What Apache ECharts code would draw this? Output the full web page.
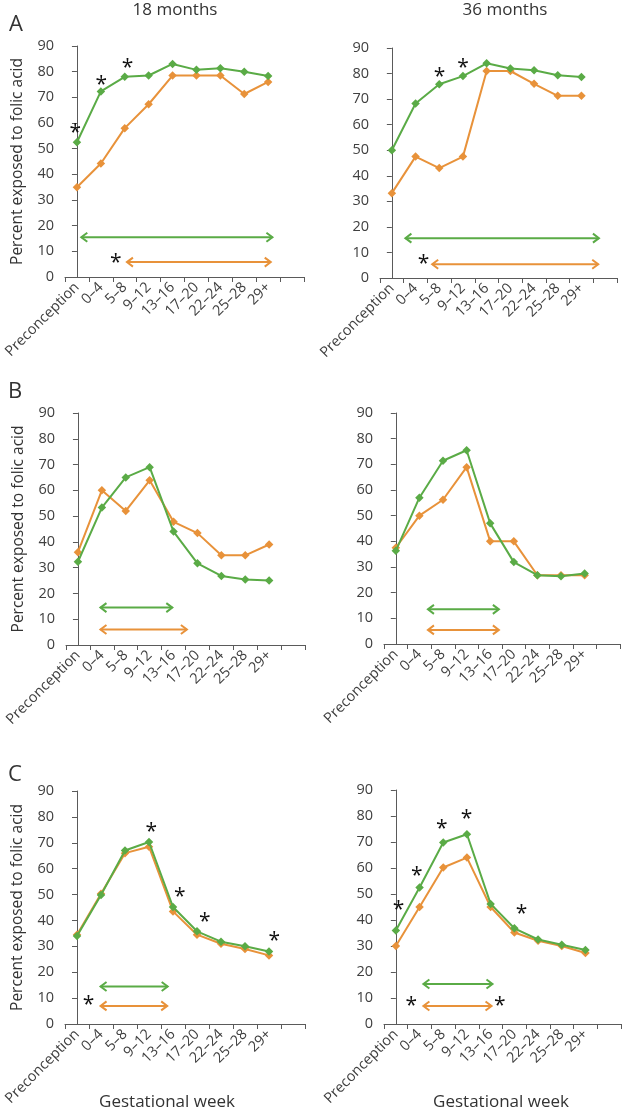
<!DOCTYPE html>
<html><head><meta charset="utf-8">
<script src="https://cdn.jsdelivr.net/npm/echarts@6/dist/echarts.min.js"></script>
<style>html,body{margin:0;padding:0;background:#fff}#c{width:624px;height:1112px}</style>
</head><body><div id="c"></div>
<script>
// ---- data ----
const categories = ['Preconception','0–4','5–8','9–12','13–16','17–20','22–24','25–28','29+',''];
const yTicks = [0,10,20,30,40,50,60,70,80,90];
const columnTitles = ['18 months','36 months'];
const panelLetters = ['A','B','C'];
const xTitle = 'Gestational week';
const yTitle = 'Percent exposed to folic acid';

const a18Green  = [52.5,72.3,78,78.5,83,80.7,81.3,80,78.3];
const a18Orange = [35,44.2,58,67.3,78.5,78.5,78.5,71.3,76];
const a36Green  = [50,68.3,75.8,79,84,82,81.3,79.3,78.7];
const a36Orange = [33.2,47.5,43,47.5,81,81,76,71.3,71.3];
const b18Green  = [32.3,53.3,65,69,44,31.7,26.8,25.4,25];
const b18Orange = [36,60,52,63.9,47.8,43.4,34.8,34.8,39];
const b36Green  = [36.3,57,71.4,75.5,47,31.9,26.8,26.4,27.5];
const b36Orange = [37.5,50,56.2,68.9,40,40,26.8,26.8,26.8];
const c18Green  = [34,49.8,67,70.3,45.2,35.8,31.8,30,28];
const c18Orange = [34.5,50.3,66,68.5,43.5,34.5,31,29,26.5];
const c36Green  = [36,52.5,69.8,73,46.2,36.8,32.5,30.5,28.5];
const c36Orange = [30,45,60.2,64,45,35.2,32,30,27.3];

// arrows: [fromIndex, toIndex, yValue]
const a18GreenArrow  = [0.14,8.22,15.5];
const a18OrangeArrow = [2.05,8.15,5.8];
const a36GreenArrow  = [0.53,8.78,15.6];
const a36OrangeArrow = [1.66,8.75,5.4];
const b18GreenArrow  = [0.90,3.99,14.5];
const b18OrangeArrow = [0.90,4.60,6.0];
const b36GreenArrow  = [1.32,4.41,13.5];
const b36OrangeArrow = [1.32,4.41,5.5];
const c18GreenArrow  = [0.94,3.82,14.5];
const c18OrangeArrow = [0.94,3.80,7.0];
const c36GreenArrow  = [1.12,4.12,15.4];
const c36OrangeArrow = [1.12,4.08,6.9];

// significance asterisks: [xIndex, yValue]
const a18Stars = [[-0.07,57.6],[1.02,76.4],[2.12,82.9],[1.63,7.1]];
const a36Stars = [[2.01,80.2],[3.0,83.9],[1.34,7.2]];
const b18Stars = [];
const b36Stars = [];
const c18Stars = [[3.1,75.6],[4.28,50.5],[5.32,40.9],[8.22,33.5],[0.48,9.0]];
const c36Stars = [[0.11,45.4],[0.88,58.6],[1.94,76.5],[2.98,80.4],[5.30,43.8],[0.65,8.6],[4.39,8.6]];

// ---- styling / layout ----
const GREEN = '#5aab46';
const ORANGE = '#e8923a';
const FONT = '"Open Sans", "Noto Sans", sans-serif';
const panels = [
  {g:a18Green,o:a18Orange,ga:a18GreenArrow,oa:a18OrangeArrow,s:a18Stars,grid:{left:65,top:46,width:239,height:231},yName:true},
  {g:a36Green,o:a36Orange,ga:a36GreenArrow,oa:a36OrangeArrow,s:a36Stars,grid:{left:380,top:48,width:237,height:230},yName:false},
  {g:b18Green,o:b18Orange,ga:b18GreenArrow,oa:b18OrangeArrow,s:b18Stars,grid:{left:66,top:413,width:239,height:232},yName:true},
  {g:b36Green,o:b36Orange,ga:b36GreenArrow,oa:b36OrangeArrow,s:b36Stars,grid:{left:384,top:413,width:236,height:231},yName:false},
  {g:c18Green,o:c18Orange,ga:c18GreenArrow,oa:c18OrangeArrow,s:c18Stars,grid:{left:65,top:791,width:240,height:233},yName:true},
  {g:c36Green,o:c36Orange,ga:c36GreenArrow,oa:c36OrangeArrow,s:c36Stars,grid:{left:384,top:790,width:237,height:234},yName:false}
];

const grid = [], xAxis = [], yAxis = [], series = [];
panels.forEach((p,i)=>{
  grid.push(Object.assign({containLabel:false}, p.grid));
  xAxis.push({
    type:'category', gridIndex:i, data:categories, boundaryGap:true,
    axisLine:{lineStyle:{color:'#5a5a5a',width:1}},
    axisTick:{show:true,length:5,interval:0,lineStyle:{color:'#5a5a5a'}},
    axisLabel:{interval:0,rotate:45,margin:8,fontSize:14.5,color:'#404040',fontFamily:FONT}
  });
  xAxis.push({type:'value', gridIndex:i, min:-0.5, max:9.5, show:false});
  yAxis.push({
    type:'value', gridIndex:i, min:0, max:90, interval:10,
    axisLine:{show:true,lineStyle:{color:'#5a5a5a',width:1}},
    axisTick:{show:true,length:5,lineStyle:{color:'#5a5a5a'}},
    splitLine:{show:false},
    axisLabel:{margin:11,fontSize:14.5,color:'#404040',fontFamily:FONT,
      formatter:(v)=> yTicks.includes(v) ? String(v) : ''},
    name: p.yName ? yTitle : '', nameLocation:'middle', nameGap:39,
    nameTextStyle:{fontSize:15.5,color:'#333',fontFamily:FONT}
  });
  const lineSeries = (data,color,z)=>({
    type:'line', xAxisIndex:2*i, yAxisIndex:i, data:data, z:z,
    symbol:'diamond', symbolSize:8.5, showSymbol:true,
    lineStyle:{color:color,width:2}, itemStyle:{color:color}, animation:false
  });
  series.push(lineSeries(p.o,ORANGE,3));
  series.push(lineSeries(p.g,GREEN,4));
  series.push({
    type:'custom', xAxisIndex:2*i+1, yAxisIndex:i, animation:false, silent:true,
    data:[p.ga.concat([0]), p.oa.concat([1])],
    encode:{x:[0,1],y:2},
    renderItem:(params,api)=>{
      const a = api.coord([api.value(0), api.value(2)]);
      const b = api.coord([api.value(1), api.value(2)]);
      const col = api.value(3)===0 ? GREEN : ORANGE;
      const h = 7, w = 4.5;
      const st = {stroke:col,lineWidth:2,fill:null};
      return {type:'group',children:[
        {type:'line',shape:{x1:a[0]+1,y1:a[1],x2:b[0]-1,y2:b[1]},style:st},
        {type:'polyline',shape:{points:[[a[0]+h,a[1]-w],[a[0]+1,a[1]],[a[0]+h,a[1]+w]]},style:st},
        {type:'polyline',shape:{points:[[b[0]-h,b[1]-w],[b[0]-1,b[1]],[b[0]-h,b[1]+w]]},style:st}
      ]};
    }
  });
  if (p.s.length) series.push({
    type:'custom', xAxisIndex:2*i+1, yAxisIndex:i, animation:false, silent:true,
    data:p.s, encode:{x:0,y:1},
    renderItem:(params,api)=>{
      const c = api.coord([api.value(0), api.value(1)]);
      return {type:'text',style:{text:'*',x:c[0],y:c[1]+4,align:'center',verticalAlign:'middle',
        font:'21px '+FONT, fill:'#111'}};
    }
  });
});

const texts = [
  [columnTitles[0],175,10,17],[columnTitles[1],505,10,17],
  [panelLetters[0],16,25,22],[panelLetters[1],15,392,22],[panelLetters[2],15,775,22],
  [xTitle,167,1102,17],[xTitle,501,1102,17]
];
const gr = texts.map(t=>({type:'text',x:t[1],y:t[2],style:{text:t[0],align:'center',verticalAlign:'middle',font:t[3]+'px '+FONT,fill:'#333'}}));

const chart = echarts.init(document.getElementById('c'),null,{renderer:'canvas'});
chart.setOption({animation:false,backgroundColor:'#fff',grid,xAxis,yAxis,series,graphic:gr});
</script></body></html>
